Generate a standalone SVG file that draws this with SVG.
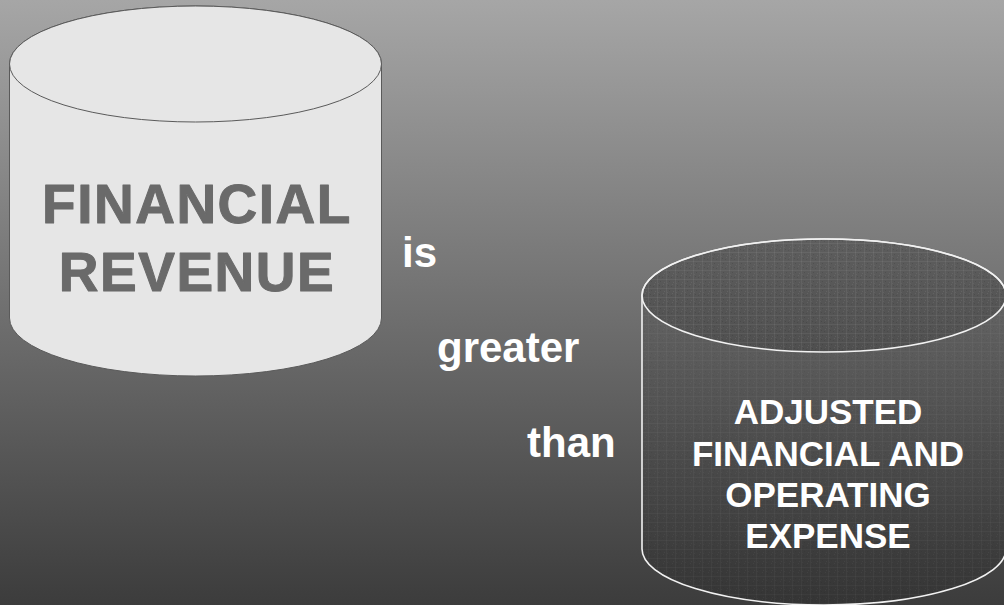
<svg xmlns="http://www.w3.org/2000/svg" width="1004" height="605" viewBox="0 0 1004 605">
  <defs>
    <linearGradient id="bg" x1="0" y1="0" x2="0" y2="1">
      <stop offset="0" stop-color="#a6a6a6"/>
      <stop offset="1" stop-color="#3c3c3c"/>
    </linearGradient>
    <!-- fine woven texture for the dark cylinder -->
    <pattern id="weave" width="9" height="9" patternUnits="userSpaceOnUse">
      <rect width="9" height="9" fill="#000" fill-opacity="0.13"/>
      <rect x="0" y="0" width="9" height="1" fill="#fff" fill-opacity="0.03"/>
      <rect x="0" y="0" width="1" height="9" fill="#fff" fill-opacity="0.03"/>
      <rect x="3" y="2" width="1" height="1" fill="#000" fill-opacity="0.06"/>
      <rect x="6" y="5" width="1" height="1" fill="#fff" fill-opacity="0.04"/>
      <rect x="2" y="6" width="1" height="1" fill="#000" fill-opacity="0.06"/>
      <rect x="7" y="3" width="1" height="1" fill="#fff" fill-opacity="0.04"/>
      <rect x="5" y="7" width="1" height="1" fill="#000" fill-opacity="0.05"/>
      <rect x="1" y="4" width="1" height="1" fill="#fff" fill-opacity="0.03"/>
    </pattern>
    <style>
      .cyl-light { fill: #e6e6e6; stroke: #5a5a5a; stroke-width: 1; }
      .cyl-dark { fill: url(#weave); stroke: #f2f2f2; stroke-width: 1.6; }
      .big { font-family: "Liberation Sans", Arial, sans-serif; font-weight: bold; text-anchor: middle; }
      .grey { fill: #6a6a6a; stroke: #6a6a6a; stroke-width: 1; stroke-linejoin: round; font-size: 55px; letter-spacing: 1.5px; }
      .white { fill: #ffffff; font-size: 35px; }
      .word { font-family: "Liberation Sans", Arial, sans-serif; font-weight: bold; fill: #ffffff; font-size: 42px; }
    </style>
  </defs>

  <rect width="1004" height="605" fill="url(#bg)"/>

  <g id="financial-revenue">
    <path class="cyl-light" d="M9.5,64 A186,58 0 0 1 381.5,64 V318 A186,58 0 0 1 9.5,318 Z"/>
    <ellipse class="cyl-light" cx="195.5" cy="64" rx="186" ry="58"/>
    <text class="big grey" x="197" y="223">FINANCIAL</text>
    <text class="big grey" x="197" y="291">REVENUE</text>
  </g>

  <g id="adjusted-expense">
    <path class="cyl-dark" d="M642,295.5 A182,56.5 0 0 1 1006,295.5 V549 A182,56 0 0 1 642,549 Z"/>
    <ellipse class="cyl-dark" cx="824" cy="295.5" rx="182" ry="56.5"/>
    <text class="big white" x="828" y="424">ADJUSTED</text>
    <text class="big white" x="828" y="466">FINANCIAL AND</text>
    <text class="big white" x="828" y="507">OPERATING</text>
    <text class="big white" x="828" y="548">EXPENSE</text>
  </g>

  <g id="relation">
    <text class="word" x="402" y="267">is</text>
    <text class="word" x="437" y="362">greater</text>
    <text class="word" x="527" y="457">than</text>
  </g>
</svg>
